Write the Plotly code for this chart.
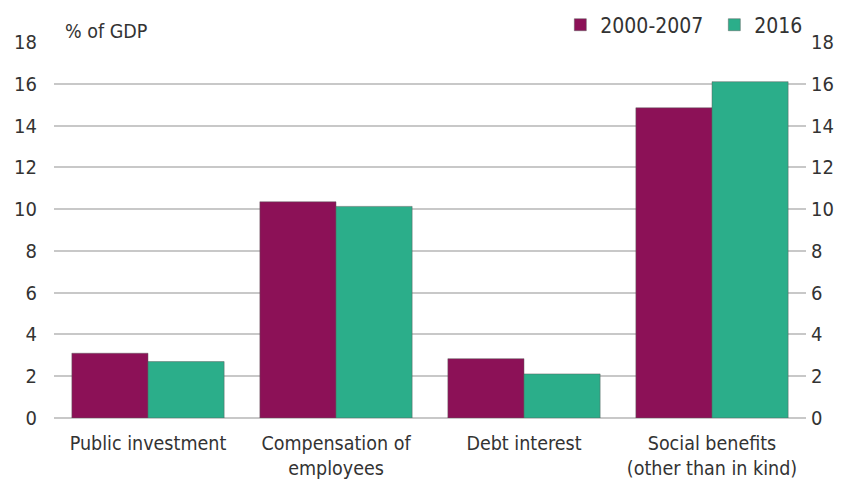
import plotly.graph_objects as go

categories = ["Public investment", "Compensation of<br>employees", "Debt interest",
              "Social benefits<br>(other than in kind)"]
series_names = ["2000-2007", "2016"]
values_2000_2007 = [3.1, 10.35, 2.84, 14.85]
values_2016 = [2.7, 10.13, 2.11, 16.1]
colors = ["#8C1157", "#2BAE8A"]
y_ticks = [0, 2, 4, 6, 8, 10, 12, 14, 16, 18]

FONT = "DejaVu Sans Condensed"
fig = go.Figure()
for name, vals, col in zip(series_names, [values_2000_2007, values_2016], colors):
    fig.add_trace(go.Bar(x=categories, y=vals, name=name, marker_color=col,
                         marker_line=dict(color="rgba(90,90,90,0.6)", width=0.8)))
# invisible trace to anchor right axis
fig.add_trace(go.Scatter(x=categories, y=values_2016, yaxis="y2", mode="markers",
                         marker=dict(opacity=0), showlegend=False, hoverinfo="skip"))

fig.update_layout(
    width=853, height=480,
    margin=dict(l=46, r=55, t=34, b=70, autoexpand=False),
    plot_bgcolor="white", paper_bgcolor="white",
    font=dict(family=FONT, size=19, color="#333333"),
    barmode="group", bargap=0.19, bargroupgap=0,
    xaxis=dict(showgrid=False, showline=False, ticks="", tickfont=dict(size=19.5),
               automargin=False, ticklabelstandoff=11),
    yaxis=dict(range=[0, 18], tickvals=y_ticks, showgrid=True, gridcolor="#c8c8c8",
               gridwidth=1.5, zeroline=True, zerolinecolor="#c8c8c8", zerolinewidth=1.5,
               ticks="", ticklabelstandoff=16, automargin=False, tickfont=dict(size=20)),
    yaxis2=dict(range=[0, 18], tickvals=y_ticks, overlaying="y", side="right",
                showgrid=False, zeroline=False, ticks="", ticklabelstandoff=4,
                automargin=False, tickfont=dict(size=20)),
    legend=dict(orientation="h", x=0.6733, xanchor="left", y=1.045, yanchor="middle",
                font=dict(size=21), itemwidth=30, entrywidth=109, traceorder="normal",
                bgcolor="rgba(0,0,0,0)"),
    annotations=[dict(text="% of GDP", xref="paper", yref="paper", x=0.012, y=1.0,
                      xanchor="left", yanchor="bottom", showarrow=False, yshift=-3,
                      font=dict(size=19.5, color="#333333"))],
)
fig.write_html("out.html")
